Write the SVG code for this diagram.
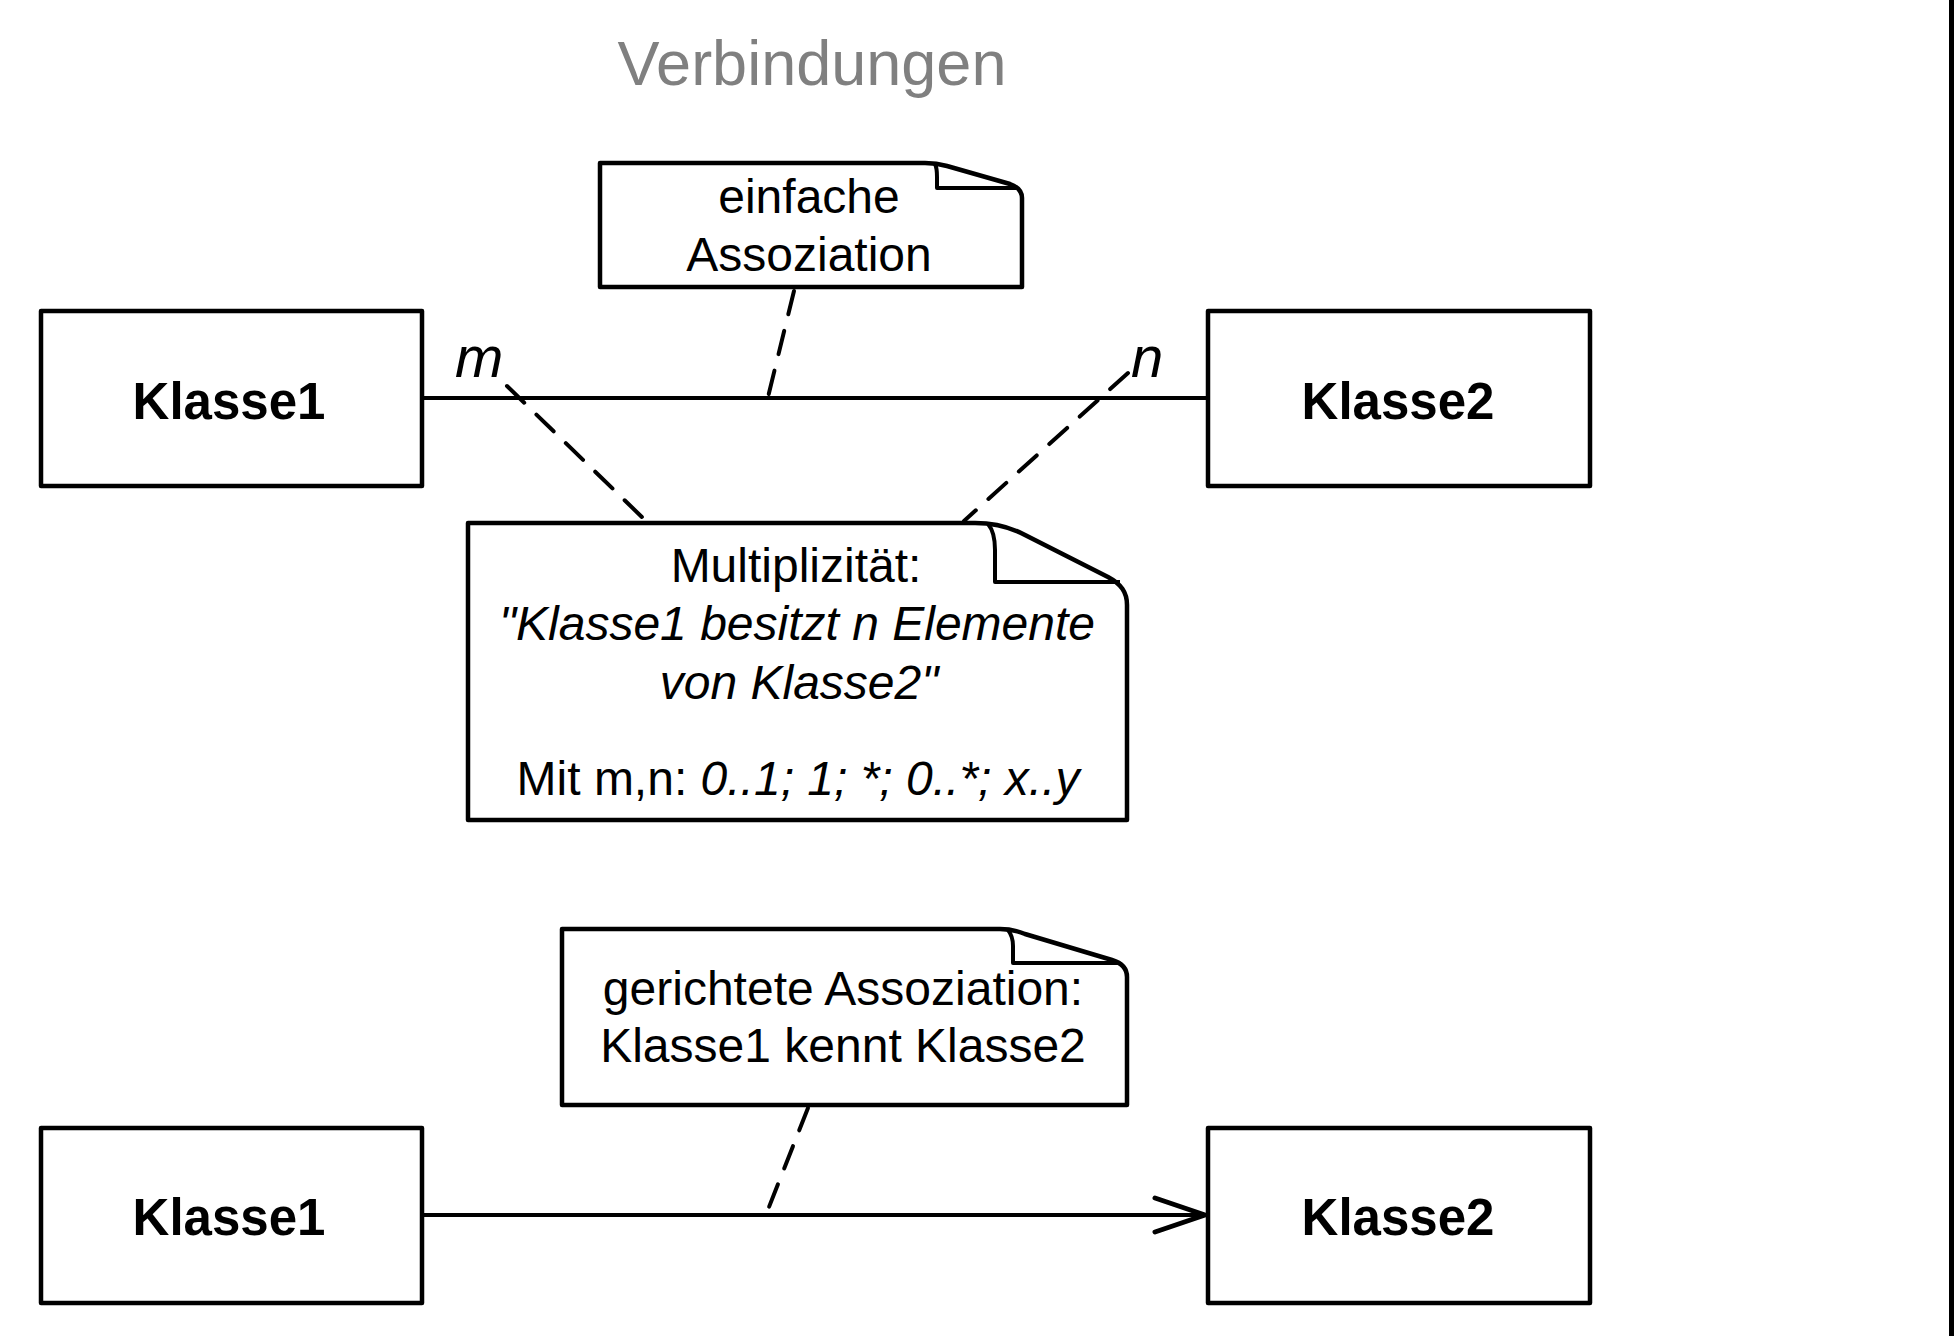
<svg xmlns="http://www.w3.org/2000/svg" width="1955" height="1336" viewBox="0 0 1955 1336">
<style>
.box{fill:#fff;stroke:#000;stroke-width:4.5;stroke-linejoin:round}
.fold{fill:none;stroke:#000;stroke-width:4;stroke-linejoin:round}
.line{fill:none;stroke:#000;stroke-width:4}
.dash{fill:none;stroke:#000;stroke-width:4;stroke-dasharray:24 17;stroke-linecap:round}
.t{font-family:"Liberation Sans",Arial,Helvetica,sans-serif;fill:#000;text-anchor:middle}
.cls{font-size:51px;font-weight:bold}
.nt{font-size:48px}
.it{font-style:italic}
.mult{font-family:"Liberation Sans",Arial,sans-serif;font-style:italic;font-size:58px;fill:#000}
</style>
<defs>
<marker id="open" markerWidth="60" markerHeight="40" viewBox="0 0 60 40" refX="54" refY="20" markerUnits="userSpaceOnUse" orient="auto">
<path d="M4,3 L54,20 L4,37" fill="none" stroke="#000" stroke-width="5" stroke-linecap="round" stroke-linejoin="miter"/>
</marker>
</defs>
<rect x="0" y="0" width="1955" height="1336" fill="#fff"/>
<text x="812" y="85" font-family="Liberation Sans, Arial, sans-serif" font-size="63" fill="#808080" text-anchor="middle">Verbindungen</text>
<line x1="1951.5" y1="0" x2="1951.5" y2="1336" stroke="#000" stroke-width="5"/>

<g id="connectors">
<line class="line" x1="421" y1="398" x2="1208" y2="398"/>
<line class="dash" x1="794" y1="291" x2="768" y2="397"/>
<line class="dash" x1="507" y1="386" x2="646" y2="521"/>
<line class="dash" x1="1128" y1="373" x2="964" y2="521"/>
<line class="line" x1="421" y1="1215" x2="1205" y2="1215" marker-end="url(#open)"/>
<line class="dash" x1="808" y1="1108" x2="769" y2="1207"/>
<text class="mult" x="455" y="377">m</text>
<text class="mult" x="1131" y="377">n</text>
</g>

<g id="klasse1-top">
<rect class="box" x="41" y="311" width="381" height="175"/>
<text class="t cls" x="229" y="419">Klasse1</text>
</g>
<g id="klasse2-top">
<rect class="box" x="1208" y="311" width="382" height="175"/>
<text class="t cls" x="1398" y="419">Klasse2</text>
</g>

<g id="note-einfache">
<path class="box" d="M600,163 L925,163 C933,163 940,164 947,166 L1010,184 C1018,187 1022,191 1022,198 L1022,287 L600,287 Z"/>
<path class="fold" d="M935,164 C937,168 937,172 937,177 L937,188 L1016,188"/>
<text class="t nt" x="809" y="213">einfache</text>
<text class="t nt" x="809" y="271">Assoziation</text>
</g>

<g id="note-multiplizitaet">
<path class="box" d="M468,523 L975,523 C995,523 1010,527 1025,535 L1108,577 C1121,584 1127,592 1127,605 L1127,820 L468,820 Z"/>
<path class="fold" d="M988,524 C994,531 995,540 995,550 L995,582 L1120,582"/>
<text class="t nt" x="796" y="582">Multiplizität:</text>
<text class="t nt it" x="797" y="640">"Klasse1 besitzt n Elemente</text>
<text class="t nt it" x="799" y="699">von Klasse2"</text>
<text class="t nt" x="798" y="795">Mit m,n: <tspan class="it">0..1; 1; *; 0..*; x..y</tspan></text>
</g>

<g id="note-gerichtet">
<path class="box" d="M562,929 L1000,929 C1010,929 1018,931 1025,934 L1112,960 C1122,963 1127,968 1127,977 L1127,1105 L562,1105 Z"/>
<path class="fold" d="M1008,930 C1012,935 1013,940 1013,946 L1013,963 L1120,963"/>
<text class="t nt" x="843" y="1005">gerichtete Assoziation:</text>
<text class="t nt" x="843" y="1062">Klasse1 kennt Klasse2</text>
</g>

<g id="klasse1-bottom">
<rect class="box" x="41" y="1128" width="381" height="175"/>
<text class="t cls" x="229" y="1235">Klasse1</text>
</g>
<g id="klasse2-bottom">
<rect class="box" x="1208" y="1128" width="382" height="175"/>
<text class="t cls" x="1398" y="1235">Klasse2</text>
</g>
</svg>
